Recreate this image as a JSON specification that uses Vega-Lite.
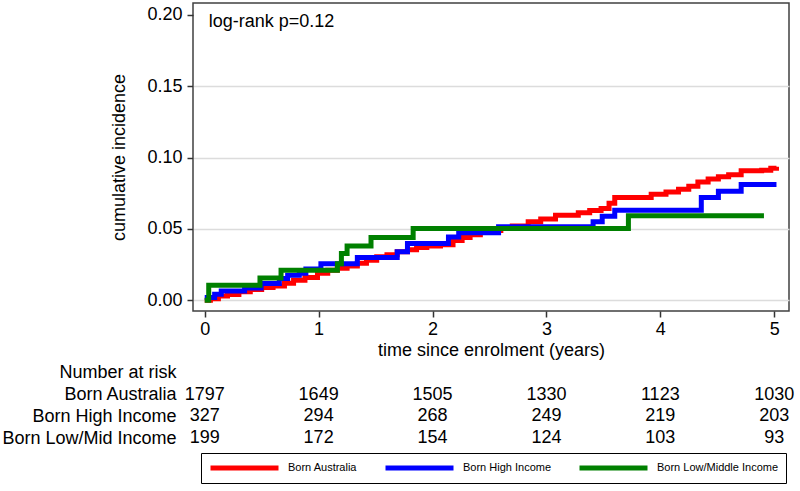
{
  "$schema": "https://vega.github.io/schema/vega-lite/v6.json",
  "padding": {"left": 1, "top": 2, "right": 5, "bottom": 5},
  "background": "white",
  "spacing": 2,
  "config": {
    "font": "Liberation Sans",
    "view": {"stroke": "#404040", "strokeWidth": 1.5},
    "axis": {"labelColor": "black", "titleColor": "black", "tickColor": "#333333", "tickWidth": 1.5, "titleFontWeight": "normal", "labelFontSize": 18, "titleFontSize": 18, "domain": false}
  },
  "datasets": {
    "curves": [
      {"group": "Born Australia", "t": 0, "v": 0},
      {"group": "Born Australia", "t": 0.05, "v": 0.001},
      {"group": "Born Australia", "t": 0.12, "v": 0.003},
      {"group": "Born Australia", "t": 0.2, "v": 0.004},
      {"group": "Born Australia", "t": 0.3, "v": 0.006},
      {"group": "Born Australia", "t": 0.4, "v": 0.0075},
      {"group": "Born Australia", "t": 0.5, "v": 0.009},
      {"group": "Born Australia", "t": 0.6, "v": 0.010},
      {"group": "Born Australia", "t": 0.7, "v": 0.012},
      {"group": "Born Australia", "t": 0.78, "v": 0.014},
      {"group": "Born Australia", "t": 0.88, "v": 0.016},
      {"group": "Born Australia", "t": 0.99, "v": 0.019},
      {"group": "Born Australia", "t": 1.08, "v": 0.021},
      {"group": "Born Australia", "t": 1.164, "v": 0.0225},
      {"group": "Born Australia", "t": 1.25, "v": 0.024},
      {"group": "Born Australia", "t": 1.34, "v": 0.026},
      {"group": "Born Australia", "t": 1.42, "v": 0.028},
      {"group": "Born Australia", "t": 1.51, "v": 0.0305},
      {"group": "Born Australia", "t": 1.6, "v": 0.032},
      {"group": "Born Australia", "t": 1.69, "v": 0.034},
      {"group": "Born Australia", "t": 1.78, "v": 0.0355},
      {"group": "Born Australia", "t": 1.86, "v": 0.037},
      {"group": "Born Australia", "t": 1.95, "v": 0.038},
      {"group": "Born Australia", "t": 2.07, "v": 0.039},
      {"group": "Born Australia", "t": 2.18, "v": 0.042},
      {"group": "Born Australia", "t": 2.26, "v": 0.044},
      {"group": "Born Australia", "t": 2.33, "v": 0.046},
      {"group": "Born Australia", "t": 2.42, "v": 0.048},
      {"group": "Born Australia", "t": 2.5, "v": 0.049},
      {"group": "Born Australia", "t": 2.6, "v": 0.0505},
      {"group": "Born Australia", "t": 2.7, "v": 0.052},
      {"group": "Born Australia", "t": 2.84, "v": 0.055},
      {"group": "Born Australia", "t": 2.95, "v": 0.057},
      {"group": "Born Australia", "t": 3.08, "v": 0.0597},
      {"group": "Born Australia", "t": 3.28, "v": 0.0613},
      {"group": "Born Australia", "t": 3.38, "v": 0.063},
      {"group": "Born Australia", "t": 3.48, "v": 0.0643},
      {"group": "Born Australia", "t": 3.55, "v": 0.068},
      {"group": "Born Australia", "t": 3.6, "v": 0.072},
      {"group": "Born Australia", "t": 3.78, "v": 0.072},
      {"group": "Born Australia", "t": 3.92, "v": 0.0744},
      {"group": "Born Australia", "t": 4.05, "v": 0.076},
      {"group": "Born Australia", "t": 4.16, "v": 0.0779},
      {"group": "Born Australia", "t": 4.25, "v": 0.080},
      {"group": "Born Australia", "t": 4.33, "v": 0.083},
      {"group": "Born Australia", "t": 4.42, "v": 0.085},
      {"group": "Born Australia", "t": 4.51, "v": 0.0866},
      {"group": "Born Australia", "t": 4.6, "v": 0.088},
      {"group": "Born Australia", "t": 4.71, "v": 0.0908},
      {"group": "Born Australia", "t": 4.89, "v": 0.0912},
      {"group": "Born Australia", "t": 4.97, "v": 0.0925},
      {"group": "Born Australia", "t": 5.02, "v": 0.0936},
      {"group": "Born High Income", "t": 0, "v": 0.0019},
      {"group": "Born High Income", "t": 0.087, "v": 0.0042},
      {"group": "Born High Income", "t": 0.145, "v": 0.0065},
      {"group": "Born High Income", "t": 0.35, "v": 0.0087},
      {"group": "Born High Income", "t": 0.495, "v": 0.0117},
      {"group": "Born High Income", "t": 0.655, "v": 0.0152},
      {"group": "Born High Income", "t": 0.728, "v": 0.0175},
      {"group": "Born High Income", "t": 0.83, "v": 0.019},
      {"group": "Born High Income", "t": 0.888, "v": 0.022},
      {"group": "Born High Income", "t": 1.02, "v": 0.0257},
      {"group": "Born High Income", "t": 1.34, "v": 0.030},
      {"group": "Born High Income", "t": 1.69, "v": 0.034},
      {"group": "Born High Income", "t": 1.78, "v": 0.0398},
      {"group": "Born High Income", "t": 2.14, "v": 0.0444},
      {"group": "Born High Income", "t": 2.23, "v": 0.0473},
      {"group": "Born High Income", "t": 2.58, "v": 0.0515},
      {"group": "Born High Income", "t": 3.41, "v": 0.055},
      {"group": "Born High Income", "t": 3.49, "v": 0.059},
      {"group": "Born High Income", "t": 3.6, "v": 0.0632},
      {"group": "Born High Income", "t": 4.36, "v": 0.072},
      {"group": "Born High Income", "t": 4.51, "v": 0.0765},
      {"group": "Born High Income", "t": 4.71, "v": 0.0812},
      {"group": "Born High Income", "t": 5.02, "v": 0.0812},
      {"group": "Born Low/Middle Income", "t": 0, "v": 0},
      {"group": "Born Low/Middle Income", "t": 0.035, "v": 0.0105},
      {"group": "Born Low/Middle Income", "t": 0.485, "v": 0.0157},
      {"group": "Born Low/Middle Income", "t": 0.67, "v": 0.021},
      {"group": "Born Low/Middle Income", "t": 1.165, "v": 0.0257},
      {"group": "Born Low/Middle Income", "t": 1.2, "v": 0.0328},
      {"group": "Born Low/Middle Income", "t": 1.25, "v": 0.038},
      {"group": "Born Low/Middle Income", "t": 1.46, "v": 0.044},
      {"group": "Born Low/Middle Income", "t": 1.83, "v": 0.0503},
      {"group": "Born Low/Middle Income", "t": 3.72, "v": 0.0592},
      {"group": "Born Low/Middle Income", "t": 4.91, "v": 0.0592}
    ],
    "risk": [
      {"row": "Born Australia", "t": 0, "n": 1797},
      {"row": "Born Australia", "t": 1, "n": 1649},
      {"row": "Born Australia", "t": 2, "n": 1505},
      {"row": "Born Australia", "t": 3, "n": 1330},
      {"row": "Born Australia", "t": 4, "n": 1123},
      {"row": "Born Australia", "t": 5, "n": 1030},
      {"row": "Born High Income", "t": 0, "n": 327},
      {"row": "Born High Income", "t": 1, "n": 294},
      {"row": "Born High Income", "t": 2, "n": 268},
      {"row": "Born High Income", "t": 3, "n": 249},
      {"row": "Born High Income", "t": 4, "n": 219},
      {"row": "Born High Income", "t": 5, "n": 203},
      {"row": "Born Low/Mid Income", "t": 0, "n": 199},
      {"row": "Born Low/Mid Income", "t": 1, "n": 172},
      {"row": "Born Low/Mid Income", "t": 2, "n": 154},
      {"row": "Born Low/Mid Income", "t": 3, "n": 124},
      {"row": "Born Low/Mid Income", "t": 4, "n": 103},
      {"row": "Born Low/Mid Income", "t": 5, "n": 93}
    ]
  },
  "vconcat": [
    {
      "width": 596,
      "height": 308,
      "layer": [
        {
          "data": {"name": "curves"},
          "mark": {"type": "line", "interpolate": "step-after", "strokeWidth": 5, "clip": true},
          "encoding": {
            "x": {"field": "t", "type": "quantitative",
              "scale": {"domain": [-0.103, 5.13], "nice": false, "zero": false},
              "axis": {"values": [0, 1, 2, 3, 4, 5], "format": "d", "title": "time since enrolment (years)", "grid": false, "tickSize": 6, "labelPadding": 3, "titlePadding": 3, "labelFlush": false}},
            "y": {"field": "v", "type": "quantitative",
              "scale": {"domain": [-0.0075, 0.2084], "nice": false, "zero": false},
              "axis": {"values": [0, 0.05, 0.1, 0.15, 0.2], "format": ".2f", "title": "cumulative incidence", "grid": true, "gridColor": "#dcdcdc", "gridWidth": 1.5,
                "gridOpacity": {"condition": {"test": "datum.value >= 0.2", "value": 0}, "value": 1},
                "tickSize": 6, "labelPadding": 5, "titlePadding": 18}},
            "color": {"field": "group", "type": "nominal",
              "scale": {"domain": ["Born Australia", "Born High Income", "Born Low/Middle Income"], "range": ["#ff0000", "#0000ff", "#008000"]},
              "legend": {"orient": "none", "legendX": 8, "legendY": 450, "direction": "horizontal", "title": null,
                "strokeColor": "#000000", "padding": 7, "symbolType": "stroke", "symbolSize": 4624, "symbolStrokeWidth": 5,
                "clipHeight": 16, "labelFontSize": 11, "labelColor": "black", "columnPadding": 25, "labelOffset": 7}}
          }
        },
        {
          "data": {"values": [{}]},
          "mark": {"type": "text", "align": "left", "baseline": "middle", "fontSize": 18, "color": "black"},
          "encoding": {
            "x": {"datum": 0.035},
            "y": {"datum": 0.1954},
            "text": {"value": "log-rank p=0.12"}
          }
        }
      ]
    },
    {
      "width": 596,
      "height": 87,
      "view": {"stroke": null},
      "data": {"name": "risk"},
      "mark": {"type": "text", "fontSize": 18, "baseline": "middle", "color": "black"},
      "encoding": {
        "x": {"field": "t", "type": "quantitative", "scale": {"domain": [-0.103, 5.13], "nice": false, "zero": false}, "axis": null},
        "y": {"field": "row", "type": "ordinal",
          "scale": {"type": "point", "padding": 0.5, "domain": ["Number at risk", "Born Australia", "Born High Income", "Born Low/Mid Income"]},
          "axis": {"title": null, "domain": false, "ticks": false, "grid": false, "labelPadding": 17, "labelFontSize": 18}},
        "text": {"field": "n", "type": "quantitative", "format": "d"}
      }
    }
  ]
}
